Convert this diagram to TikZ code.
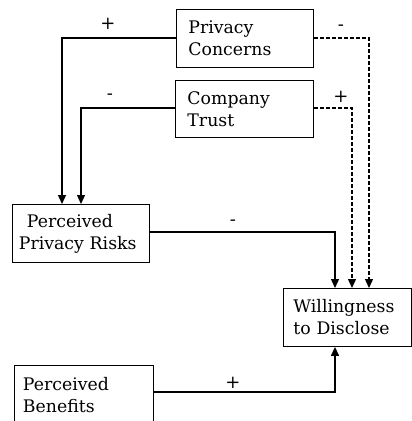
\documentclass[tikz,border=0pt]{standalone}
\usepackage{fontspec}
\setmainfont{DejaVu Serif}
\usetikzlibrary{arrows.meta}
\begin{document}
\begin{tikzpicture}[x=1pt,y=-1pt,
  box/.style={draw, line width=0.9pt, inner sep=0pt, anchor=north west, align=left,
    font=\fontsize{17.3}{22}\selectfont},
  conn/.style={line width=1.3pt, -{Triangle[length=9pt,width=8pt]}},
  dconn/.style={conn, dash pattern=on 4pt off 2pt},
  sign/.style={font=\fontsize{18}{20}\selectfont, inner sep=0pt}]
\useasboundingbox (0,0) rectangle (412,421);
\clip (0,0) rectangle (412,421);
% boxes
\node[box, minimum width=137pt, minimum height=58pt, text width=113pt] (pc) at (176,9) {Privacy\\Concerns};
\node[box, minimum width=138pt, minimum height=57pt, text width=114pt] (ct) at (175,80) {Company\\Trust};
\node[box, minimum width=137pt, minimum height=58pt, text width=124pt] (ppr) at (12,204) {\hspace*{8pt}Perceived\\Privacy Risks};
\node[box, minimum width=128pt, minimum height=58pt, text width=108pt] (wd) at (283,288) {Willingness\\to Disclose};
\node[box, minimum width=139pt, minimum height=60pt, text width=122pt] (pb) at (14,365) {Perceived\\Benefits};
% connectors
\draw[conn] (pc.west |- 0,38) -| (ppr.north west -| 62,0);
\draw[conn] (ct.west |- 0,108) -| (ppr.north west -| 81,0);
\draw[dconn] (pc.east |- 0,38) -| (wd.north west -| 369,0);
\draw[dconn] (ct.east |- 0,108) -| (wd.north west -| 352,0);
\draw[conn] (ppr.east |- 0,232) -| (wd.north west -| 335,0);
\draw[conn] (pb.east |- 0,392) -| (wd.south west -| 335,0);
% signs
\node[sign] (s1) at (108,24) {+};
\node[sign] (s2) at (110,97) {-};
\node[sign] (s3) at (341,28) {-};
\node[sign] (s4) at (341,97) {+};
\node[sign] (s5) at (233,223) {-};
\node[sign] (s6) at (233,383) {+};
\end{tikzpicture}
\end{document}
